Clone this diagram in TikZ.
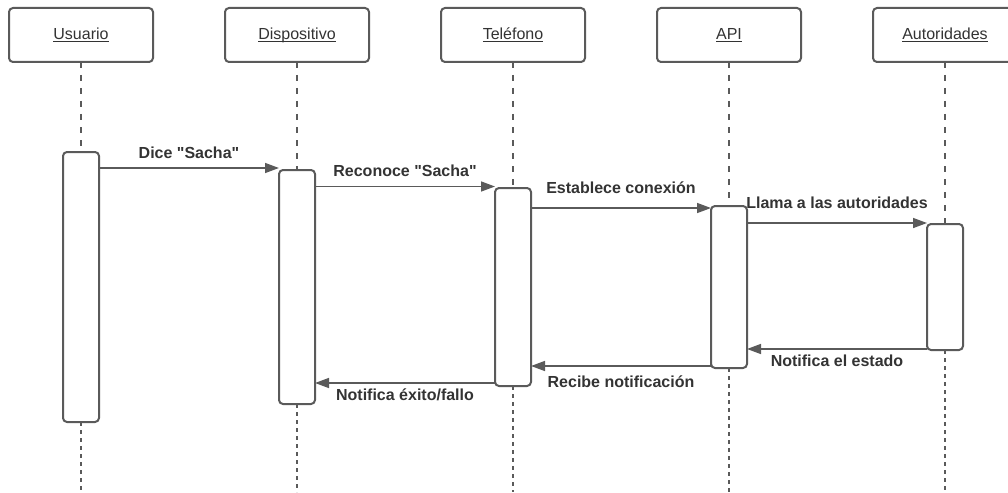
\documentclass[tikz,border=0pt]{standalone}
\usepackage{fontspec}
\setmainfont{Liberation Sans}
\usetikzlibrary{arrows.meta, positioning}
\definecolor{linegray}{HTML}{5A5A5A}
\definecolor{textgray}{HTML}{333333}
\def\cornerradius{4pt}
\def\partwidth{144pt}
\def\partheight{54pt}
\def\actwidth{36pt}
\def\msglinewidth{1.5pt}
\def\boxlinewidth{2pt}
\newsavebox{\partbox}
\newcommand{\parttxt}[1]{\sbox{\partbox}{#1}\rlap{\color{textgray}\rule[-2.5pt]{\wd\partbox}{1pt}}\usebox{\partbox}}
\tikzset{
	% participant header
	head/.style={
		draw=linegray,
		line width=\boxlinewidth,
		rounded corners=\cornerradius,
		fill=white,
		minimum width=\partwidth,
		minimum height=\partheight,
		outer sep=0pt,
		text=textgray,
		font=\fontsize{16}{19}\selectfont,
	},
	% activation bar
	act/.style={
		draw=linegray,
		line width=\boxlinewidth,
		rounded corners=\cornerradius,
		fill=white,
		minimum width=\actwidth,
		inner sep=0pt,
		outer sep=0pt,
	},
	% lifelines
	lifeline/.style={
		draw=linegray,
		line width=\msglinewidth,
		dash pattern=on 6pt off 7pt,
	},
	lifeline_low/.style={
		draw=linegray,
		line width=\msglinewidth,
		dash pattern=on 4pt off 4pt,
	},
	% messages
	msg/.style={
		draw=linegray,
		line width=\msglinewidth,
		-{Triangle[length=14pt,width=10pt]},
	},
	msg_label/.style={
		text=textgray,
		font=\bfseries\fontsize{16}{19}\selectfont,
		inner sep=0pt,
		text height=11.5pt,
		text depth=0pt,
	},
}
\begin{document}
\begin{tikzpicture}
	\useasboundingbox (0pt,0pt) rectangle (1008pt,-492pt);
	% participants
	\node[head] (usr) at (81pt,-35pt) {\parttxt{Usuario}};
	\node[head, right=72pt of usr] (dsp) {\parttxt{Dispositivo}};
	\node[head, right=72pt of dsp] (tel) {\parttxt{Teléfono}};
	\node[head, right=72pt of tel] (api) {\parttxt{API}};
	\node[head, right=72pt of api] (aut) {\parttxt{Autoridades}};
	%
	% activation bars
	\node[act, minimum height=270pt, below=90pt of usr] (usrA) {};
	\node[act, minimum height=234pt, below=108pt of dsp] (dspA) {};
	\node[act, minimum height=198pt, below=126pt of tel] (telA) {};
	\node[act, minimum height=162pt, below=144pt of api] (apiA) {};
	\node[act, minimum height=126pt, below=162pt of aut] (autA) {};
	%
	% lifelines
	\foreach \p in {usr,dsp,tel,api,aut}{
		\draw[lifeline] (\p.south) -- (\p A.north);
		\draw[lifeline_low] (\p A.south) -- (\p A.south |- 0pt,-492pt);
	}
	%
	% requests
	\draw[msg] ([yshift=-16pt]usrA.north east) coordinate (m1) -- (dspA.west |- m1)
		node[msg_label, midway, above=9pt] {Dice \textquotedbl Sacha\textquotedbl};
	\draw[msg] ([yshift=-16.5pt]dspA.north east) coordinate (m2) -- (telA.west |- m2)
		node[msg_label, midway, above=9pt] {Reconoce \textquotedbl Sacha\textquotedbl};
	\draw[msg] ([yshift=-20pt]telA.north east) coordinate (m3) -- (apiA.west |- m3)
		node[msg_label, midway, above=14pt] {Establece conexión};
	\draw[msg] ([yshift=-17pt]apiA.north east) coordinate (m4) -- (autA.west |- m4)
		node[msg_label, midway, above=14pt] {Llama a las autoridades};
	%
	% replies
	\draw[msg] ([yshift=1pt]autA.south west) coordinate (r1) -- (apiA.east |- r1)
		node[msg_label, midway, below=5pt] {Notifica el estado};
	\draw[msg] ([yshift=2pt]apiA.south west) coordinate (r2) -- (telA.east |- r2)
		node[msg_label, midway, below=9pt] {Recibe notificación};
	\draw[msg] ([yshift=3pt]telA.south west) coordinate (r3) -- (dspA.east |- r3)
		node[msg_label, midway, below=5pt] {Notifica éxito/fallo};
\end{tikzpicture}
\end{document}
